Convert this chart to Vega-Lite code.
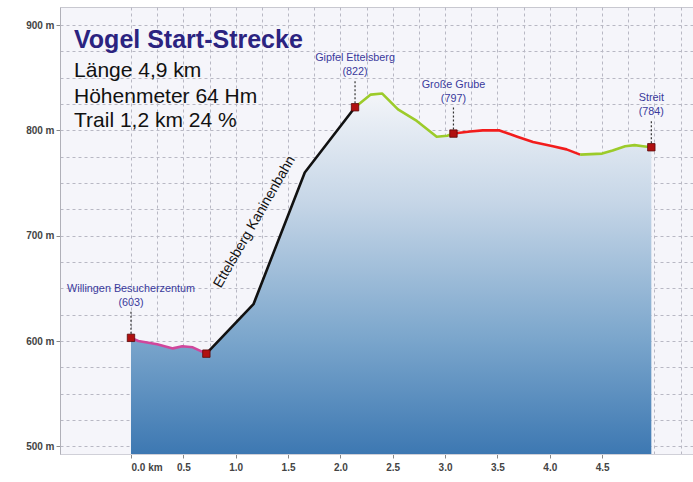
{
  "$schema": "https://vega.github.io/schema/vega-lite/v6.json",
  "width": 633,
  "height": 447,
  "autosize": {"type": "none"},
  "padding": {"left": 60, "top": 7, "right": 0, "bottom": 28},
  "background": "white",
  "config": {
    "view": {"fill": "#f5f5fa", "stroke": "#c8c8d0"},
    "font": "Liberation Sans"
  },
  "datasets": {
    "profile": [
      {"km": 0.0, "elev": 603, "seg": "pink"},
      {"km": 0.07, "elev": 600, "seg": "pink"},
      {"km": 0.25, "elev": 597, "seg": "pink"},
      {"km": 0.4, "elev": 593, "seg": "pink"},
      {"km": 0.49, "elev": 595, "seg": "pink"},
      {"km": 0.59, "elev": 594, "seg": "pink"},
      {"km": 0.72, "elev": 588, "seg": "pink"},
      {"km": 0.72, "elev": 588, "seg": "black"},
      {"km": 1.17, "elev": 635, "seg": "black"},
      {"km": 1.66, "elev": 760, "seg": "black"},
      {"km": 2.14, "elev": 822, "seg": "black"},
      {"km": 2.14, "elev": 822, "seg": "green1"},
      {"km": 2.29, "elev": 834, "seg": "green1"},
      {"km": 2.4, "elev": 835, "seg": "green1"},
      {"km": 2.55, "elev": 820, "seg": "green1"},
      {"km": 2.73, "elev": 809, "seg": "green1"},
      {"km": 2.92, "elev": 794, "seg": "green1"},
      {"km": 3.02, "elev": 795, "seg": "green1"},
      {"km": 3.08, "elev": 797, "seg": "green1"},
      {"km": 3.08, "elev": 797, "seg": "red"},
      {"km": 3.24, "elev": 799, "seg": "red"},
      {"km": 3.36, "elev": 800, "seg": "red"},
      {"km": 3.52, "elev": 800, "seg": "red"},
      {"km": 3.69, "elev": 794, "seg": "red"},
      {"km": 3.84, "elev": 789, "seg": "red"},
      {"km": 4.03, "elev": 785, "seg": "red"},
      {"km": 4.16, "elev": 782, "seg": "red"},
      {"km": 4.29, "elev": 777, "seg": "red"},
      {"km": 4.29, "elev": 777, "seg": "green2"},
      {"km": 4.5, "elev": 778, "seg": "green2"},
      {"km": 4.6, "elev": 781, "seg": "green2"},
      {"km": 4.72, "elev": 785, "seg": "green2"},
      {"km": 4.81, "elev": 786, "seg": "green2"},
      {"km": 4.89, "elev": 785, "seg": "green2"},
      {"km": 4.97, "elev": 784, "seg": "green2"}
    ],
    "points": [
      {"km": 0.0, "elev": 603, "name": "Willingen Besucherzentum", "val": "(603)"},
      {"km": 0.72, "elev": 588, "name": "", "val": ""},
      {"km": 2.14, "elev": 822, "name": "Gipfel Ettelsberg", "val": "(822)"},
      {"km": 3.08, "elev": 797, "name": "Große Grube", "val": "(797)"},
      {"km": 4.97, "elev": 784, "name": "Streit", "val": "(784)"}
    ],
    "trail": [
      {"km": 1.18, "elev": 713, "text": "Ettelsberg Kaninenbahn"}
    ],
    "heading": [
      {"km": -0.544, "elev": 878, "text": "Vogel Start-Strecke"}
    ],
    "info": [
      {"km": -0.544, "elev": 850.5, "text": "Länge 4,9 km"},
      {"km": -0.544, "elev": 826.5, "text": "Höhenmeter 64 Hm"},
      {"km": -0.544, "elev": 803.5, "text": "Trail 1,2 km 24 %"}
    ]
  },
  "resolve": {"axis": {"x": "independent", "y": "independent"}},
  "layer": [
    {
      "data": {"name": "profile"},
      "mark": {"type": "line", "opacity": 0},
      "encoding": {
        "x": {
          "field": "km", "type": "quantitative",
          "scale": {"domain": [-0.678, 5.368], "nice": false, "zero": false},
          "axis": {
            "orient": "bottom",
            "title": null,
            "values": [0, 0.25, 0.5, 0.75, 1, 1.25, 1.5, 1.75, 2, 2.25, 2.5, 2.75, 3, 3.25, 3.5, 3.75, 4, 4.25, 4.5, 4.75, 5, 5.25],
            "labels": false,
            "ticks": false,
            "domain": false,
            "grid": true,
            "gridColor": "#b8b8c4",
            "gridDash": [3, 3],
            "gridWidth": 1
          }
        },
        "y": {
          "field": "elev", "type": "quantitative",
          "scale": {"domain": [492.7, 917.2], "nice": false, "zero": false},
          "axis": {
            "orient": "left",
            "title": null,
            "values": [500, 525, 550, 575, 600, 625, 650, 675, 700, 725, 750, 775, 800, 825, 850, 875, 900],
            "labels": false,
            "ticks": false,
            "domain": false,
            "grid": true,
            "gridColor": "#b8b8c4",
            "gridDash": [3, 3],
            "gridWidth": 1
          }
        }
      }
    },
    {
      "data": {"name": "profile"},
      "mark": {
        "type": "area",
        "color": {
          "gradient": "linear",
          "x1": 0, "y1": 0, "x2": 0, "y2": 1,
          "stops": [
            {"offset": 0, "color": "#f3f5f9"},
            {"offset": 0.3, "color": "#c6d6e7"},
            {"offset": 0.68, "color": "#7ba6cc"},
            {"offset": 1, "color": "#3d78b2"}
          ]
        }
      },
      "encoding": {
        "x": {
          "field": "km", "type": "quantitative",
          "axis": {
            "orient": "bottom",
            "title": null,
            "grid": false,
            "values": [0, 0.5, 1, 1.5, 2, 2.5, 3, 3.5, 4, 4.5],
            "labelExpr": "datum.value === 0 ? '0.0 km' : format(datum.value, '.1f')",
            "labelAlign": {"condition": {"test": "datum.value === 0", "value": "left"}, "value": "center"},
            "labelOverlap": false,
            "labelFlush": false,
            "labelFontSize": 10,
            "labelFontWeight": "bold",
            "labelColor": "#444444",
            "labelPadding": 4,
            "tickSize": 4,
            "tickColor": "#888888",
            "domainColor": "#d0d0d8"
          }
        },
        "y": {
          "field": "elev", "type": "quantitative",
          "axis": {
            "orient": "left",
            "title": null,
            "grid": false,
            "values": [500, 600, 700, 800, 900],
            "labelExpr": "datum.value + ' m'",
            "labelFontSize": 10,
            "labelFontWeight": "bold",
            "labelColor": "#444444",
            "labelPadding": 2,
            "tickSize": 4,
            "tickColor": "#888888",
            "domainColor": "#b0b0b8"
          }
        },
        "y2": {"datum": 492.7}
      }
    },
    {
      "data": {"name": "profile"},
      "mark": {"type": "line", "strokeWidth": 2.6, "strokeJoin": "round"},
      "encoding": {
        "x": {"field": "km", "type": "quantitative", "axis": null},
        "y": {"field": "elev", "type": "quantitative", "axis": null},
        "color": {
          "field": "seg", "type": "nominal",
          "scale": {
            "domain": ["pink", "black", "green1", "red", "green2"],
            "range": ["#d0479c", "#111111", "#9ccb2a", "#f21c1c", "#9ccb2a"]
          },
          "legend": null
        }
      }
    },
    {
      "data": {"name": "points"},
      "transform": [{"filter": "datum.name !== ''"}],
      "mark": {"type": "rule", "strokeDash": [2, 2], "color": "#333333", "strokeWidth": 1.2, "y2Offset": -26},
      "encoding": {
        "x": {"field": "km", "type": "quantitative", "axis": null},
        "y": {"field": "elev", "type": "quantitative", "axis": null},
        "y2": {"field": "elev"}
      }
    },
    {
      "data": {"name": "points"},
      "mark": {"type": "point", "shape": "square", "filled": true, "size": 55, "color": "#b01010", "stroke": "#5a0808", "strokeWidth": 0.8, "opacity": 1},
      "encoding": {
        "x": {"field": "km", "type": "quantitative", "axis": null},
        "y": {"field": "elev", "type": "quantitative", "axis": null}
      }
    },
    {
      "data": {"name": "points"},
      "mark": {"type": "text", "dy": -49, "fontSize": 10.8, "color": "#3a3a9c", "align": "center", "baseline": "middle"},
      "encoding": {
        "x": {"field": "km", "type": "quantitative", "axis": null},
        "y": {"field": "elev", "type": "quantitative", "axis": null},
        "text": {"field": "name"}
      }
    },
    {
      "data": {"name": "points"},
      "mark": {"type": "text", "dy": -35, "fontSize": 10.8, "color": "#3a3a9c", "align": "center", "baseline": "middle"},
      "encoding": {
        "x": {"field": "km", "type": "quantitative", "axis": null},
        "y": {"field": "elev", "type": "quantitative", "axis": null},
        "text": {"field": "val"}
      }
    },
    {
      "data": {"name": "trail"},
      "mark": {"type": "text", "angle": 300, "fontSize": 14, "color": "#111111", "align": "center", "baseline": "middle"},
      "encoding": {
        "x": {"field": "km", "type": "quantitative", "axis": null},
        "y": {"field": "elev", "type": "quantitative", "axis": null},
        "text": {"field": "text"}
      }
    },
    {
      "data": {"name": "heading"},
      "mark": {"type": "text", "fontSize": 25, "fontWeight": "bold", "color": "#2b2380", "align": "left", "baseline": "alphabetic"},
      "encoding": {
        "x": {"field": "km", "type": "quantitative", "axis": null},
        "y": {"field": "elev", "type": "quantitative", "axis": null},
        "text": {"field": "text"}
      }
    },
    {
      "data": {"name": "info"},
      "mark": {"type": "text", "fontSize": 21, "color": "#111111", "align": "left", "baseline": "alphabetic"},
      "encoding": {
        "x": {"field": "km", "type": "quantitative", "axis": null},
        "y": {"field": "elev", "type": "quantitative", "axis": null},
        "text": {"field": "text"}
      }
    }
  ]
}
